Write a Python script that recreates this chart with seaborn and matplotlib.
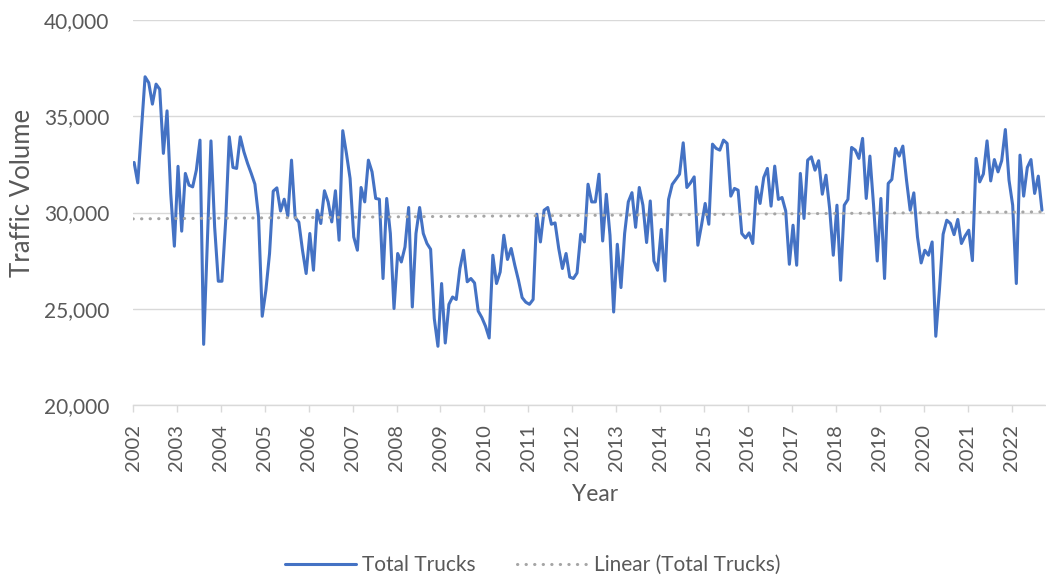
import matplotlib
matplotlib.use('agg')
import matplotlib.pyplot as plt
import matplotlib.ticker as mticker
import numpy as np
import pandas as pd
import seaborn as sns

# Monthly total truck volume, Jan 2002 - Sep 2022
start_year = 2002
total_trucks = [
    32600, 31540, 34300, 37050, 36740, 35630, 36670, 36400, 33070, 35280, 31000, 28250,  # 2002
    32400, 29030, 32030, 31420, 31330, 32200, 33760, 23150, 28500, 33720, 29250, 26430,  # 2003
    26430, 29500, 33930, 32340, 32290, 33930, 33150, 32550, 32030, 31470, 29770, 24610,  # 2004
    25960, 27870, 31110, 31280, 30080, 30690, 29820, 32720, 29730, 29500, 28040, 26830,  # 2005
    28910, 27000, 30120, 29430, 31130, 30550, 29510, 31130, 28560, 34250, 33070, 31770,  # 2006
    28730, 28040, 31300, 30550, 32720, 32110, 30730, 30690, 26570, 30730, 28910, 25010,  # 2007
    27870, 27430, 28210, 30260, 25090, 28910, 30260, 28910, 28390, 28090, 24490, 23050,  # 2008
    26310, 23220, 25230, 25610, 25480, 27090, 28040, 26400, 26570, 26340, 24880, 24540,  # 2009
    24090, 23480, 27780, 26310, 26910, 28820, 27560, 28130, 27260, 26480, 25580, 25340,  # 2010
    25230, 25480, 29910, 28470, 30120, 30260, 29390, 29460, 28130, 27090, 27870, 26650,  # 2011
    26570, 26860, 28870, 28470, 31470, 30550, 30550, 31990, 28520, 30950, 28820, 24830,  # 2012
    28350, 26100, 28910, 30550, 31030, 29230, 31300, 30380, 28440, 30600, 27480, 27000,  # 2013
    29120, 26440, 30680, 31460, 31720, 31990, 33620, 31300, 31540, 31850, 28300, 29340,  # 2014
    30470, 29390, 33550, 33330, 33240, 33760, 33590, 30850, 31250, 31160, 28910, 28680,  # 2015
    28940, 28390, 31330, 30470, 31820, 32290, 30330, 32410, 30680, 30780, 30080, 27310,  # 2016
    29340, 27260, 32030, 29690, 32720, 32890, 32200, 32690, 30950, 31940, 30210, 27780,  # 2017
    30380, 26480, 30380, 30680, 33380, 33240, 32810, 33850, 30730, 32930, 30380, 27480,  # 2018
    30730, 26570, 31510, 31720, 33330, 32930, 33450, 31680, 30120, 31020, 28730, 27380,  # 2019
    28040, 27780, 28470, 23570, 26000, 28870, 29600, 29430, 28850, 29640, 28390, 28780,  # 2020
    29080, 27500, 32810, 31590, 32000, 33720, 31640, 32750, 32110, 32690, 34310, 31680,  # 2021
    30380, 26310, 32980, 30850, 32340, 32750, 30990, 31890, 30120,                       # 2022
]
year_ticks = list(range(2002, 2023))
y_ticks = [20000, 25000, 30000, 35000, 40000]

blue = "#4472C4"
grey = "#A5A5A5"
grid_grey = "#D9D9D9"
text_grey = "#595959"

months = np.arange(len(total_trucks))
df = pd.DataFrame({"Year": start_year + (months + 0.3) / 12.0,
                   "Traffic Volume": total_trucks})

sns.set_theme(style="white")
plt.rcParams['font.family'] = ['Lato', 'DejaVu Sans']
plt.rcParams['text.color'] = text_grey

fig, ax = plt.subplots(figsize=(10.46, 5.77), dpi=100)
plt.subplots_adjust(left=133 / 1046, right=0.999, top=1 - 20 / 577, bottom=1 - 405 / 577)

ax.set_xlim(2002, 2022.76)
ax.set_ylim(20000, 40000)

sns.lineplot(data=df, x="Year", y="Traffic Volume", ax=ax, color=blue, linewidth=2.2,
             label="Total Trucks", legend=False, zorder=3)
# Linear trendline over the full axis width
sns.regplot(data=df, x="Year", y="Traffic Volume", ax=ax, scatter=False, ci=None, truncate=False,
            line_kws={"color": grey, "linewidth": 2.2, "linestyle": (0, (0.1, 2.7)),
                      "dash_capstyle": "round", "label": "Linear (Total Trucks)", "zorder": 4})
ax.set_xlim(2002, 2022.76)

ax.set_yticks(y_ticks)
ax.yaxis.set_major_formatter(mticker.FuncFormatter(lambda v, p: "{:,.0f}".format(v)))
ax.set_xticks(year_ticks)
ax.set_xticklabels([str(y) for y in year_ticks], rotation=90)
ax.tick_params(axis='y', length=0, pad=17, labelsize=15, labelcolor=text_grey)
ax.tick_params(axis='x', length=5, width=1, color=grid_grey, pad=9, labelsize=14.5,
               labelcolor=text_grey, bottom=True)
ax.yaxis.grid(True, color=grid_grey, linewidth=1)
ax.xaxis.grid(False)
for side in ['left', 'right', 'top']:
    ax.spines[side].set_visible(False)
ax.spines['bottom'].set_color(grid_grey)
ax.spines['bottom'].set_linewidth(1)

ax.set_xlabel("Year", fontsize=16.5, color=text_grey)
ax.set_ylabel("Traffic Volume", fontsize=18.5, color=text_grey)
ax.xaxis.set_label_coords(0.507, -0.205)
ax.yaxis.set_label_coords(-0.108, 0.55)

lines = ax.get_lines()
fig.legend(handles=lines[:2], labels=["Total Trucks", "Linear (Total Trucks)"],
           loc='center', bbox_to_anchor=(533 / 1046, 1 - 565 / 577), ncol=2, frameon=False,
           fontsize=15, handlelength=3.4, handletextpad=0.3, columnspacing=2.0,
           labelcolor=text_grey)

plt.savefig("out.png", dpi=100)
